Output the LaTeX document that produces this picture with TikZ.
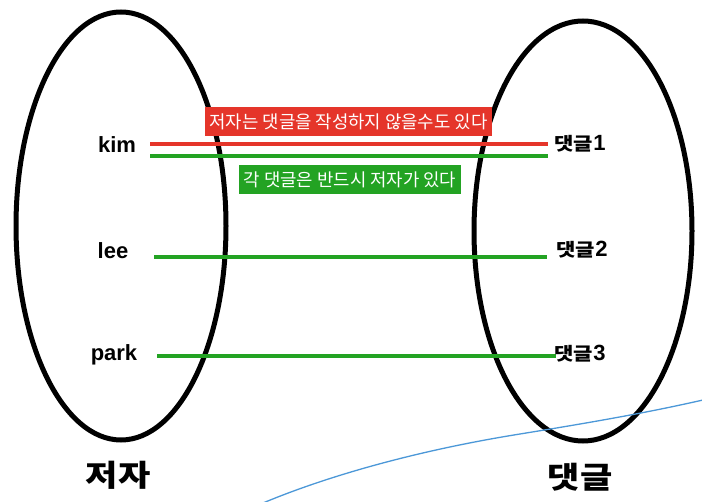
\documentclass[tikz,border=0pt]{standalone}
\usepackage{fontspec}
\usepackage{graphicx}
\setmainfont{Noto Sans CJK KR}
\newfontfamily\latinfont{Liberation Sans}
\usetikzlibrary{shapes.geometric}
\definecolor{rline}{HTML}{E5352A}
\definecolor{gline}{HTML}{23A323}
\definecolor{bline}{HTML}{4C98D8}
\newcommand{\lat}[1]{{\latinfont\bfseries\fontsize{22}{24}\selectfont #1}}
\newcommand{\wide}[1]{\scalebox{1.17}[1]{#1}}
\tikzset{
  setshape/.style={draw=black, line width=5pt, ellipse, inner sep=0pt},
  itemlbl/.style={font=\bfseries\fontsize{18}{20}\selectfont, inner sep=0pt},
  setlbl/.style={font=\bfseries\fontsize{30}{32}\selectfont, inner sep=0pt},
  redbox/.style={fill=rline, text=white, font=\fontsize{17.8}{20}\selectfont, minimum width=287pt, minimum height=29pt, inner sep=0pt},
  greenbox/.style={fill=gline, text=white, font=\fontsize{17.8}{20}\selectfont, minimum width=222pt, minimum height=29pt, inner sep=0pt},
  redlink/.style={draw=rline, line width=4pt},
  greenlink/.style={draw=gline, line width=4pt},
}
\begin{document}
\begin{tikzpicture}[x=1pt,y=-1pt]
\useasboundingbox (0,0) rectangle (702,502);
\fill[white] (0,0) rectangle (702,502);
% sets
\node[setshape, minimum width=210pt, minimum height=428pt] (L) at (121,226) {};
\node[setshape, minimum width=218pt, minimum height=420pt] (R) at (583,231) {};
% blue stroke
\draw[bline, line width=1.3pt] (263,503) .. controls (330,475) and (420,450) .. (520,434)
  .. controls (600,421) and (650,412) .. (703,400);
% links
\coordinate (k1) at (150,144); \coordinate (c1a) at (548,144);
\coordinate (k2) at (150,156); \coordinate (c1b) at (548,156);
\coordinate (l1) at (154,257); \coordinate (c2) at (547,257);
\coordinate (p1) at (157,356); \coordinate (c3) at (556,356);
\draw[redlink] (k1) -- (c1a);
\draw[greenlink] (k2) -- (c1b);
\draw[greenlink] (l1) -- (c2);
\draw[greenlink] (p1) -- (c3);
% labels
\node[redbox] (rb) at (348.5,121.5) {저자는 댓글을 작성하지 않을수도 있다};
\node[greenbox] (gb) at (350,179.5) {각 댓글은 반드시 저자가 있다};
\node[itemlbl] (kim) at (117,145) {\lat{kim}};
\node[itemlbl] (lee) at (113,251) {\lat{lee}};
\node[itemlbl] (park) at (114,355) {\lat{park}};
\node[itemlbl] (d1) at (580,144) {\wide{댓글}\lat{1}};
\node[itemlbl] (d2) at (582,250) {\wide{댓글}\lat{2}};
\node[itemlbl] (d3) at (580,354) {\wide{댓글}\lat{3}};
\node[setlbl] (t1) at (118,475) {\wide{저자}};
\node[setlbl] (t2) at (580,477) {\wide{댓글}};
\end{tikzpicture}
\end{document}
